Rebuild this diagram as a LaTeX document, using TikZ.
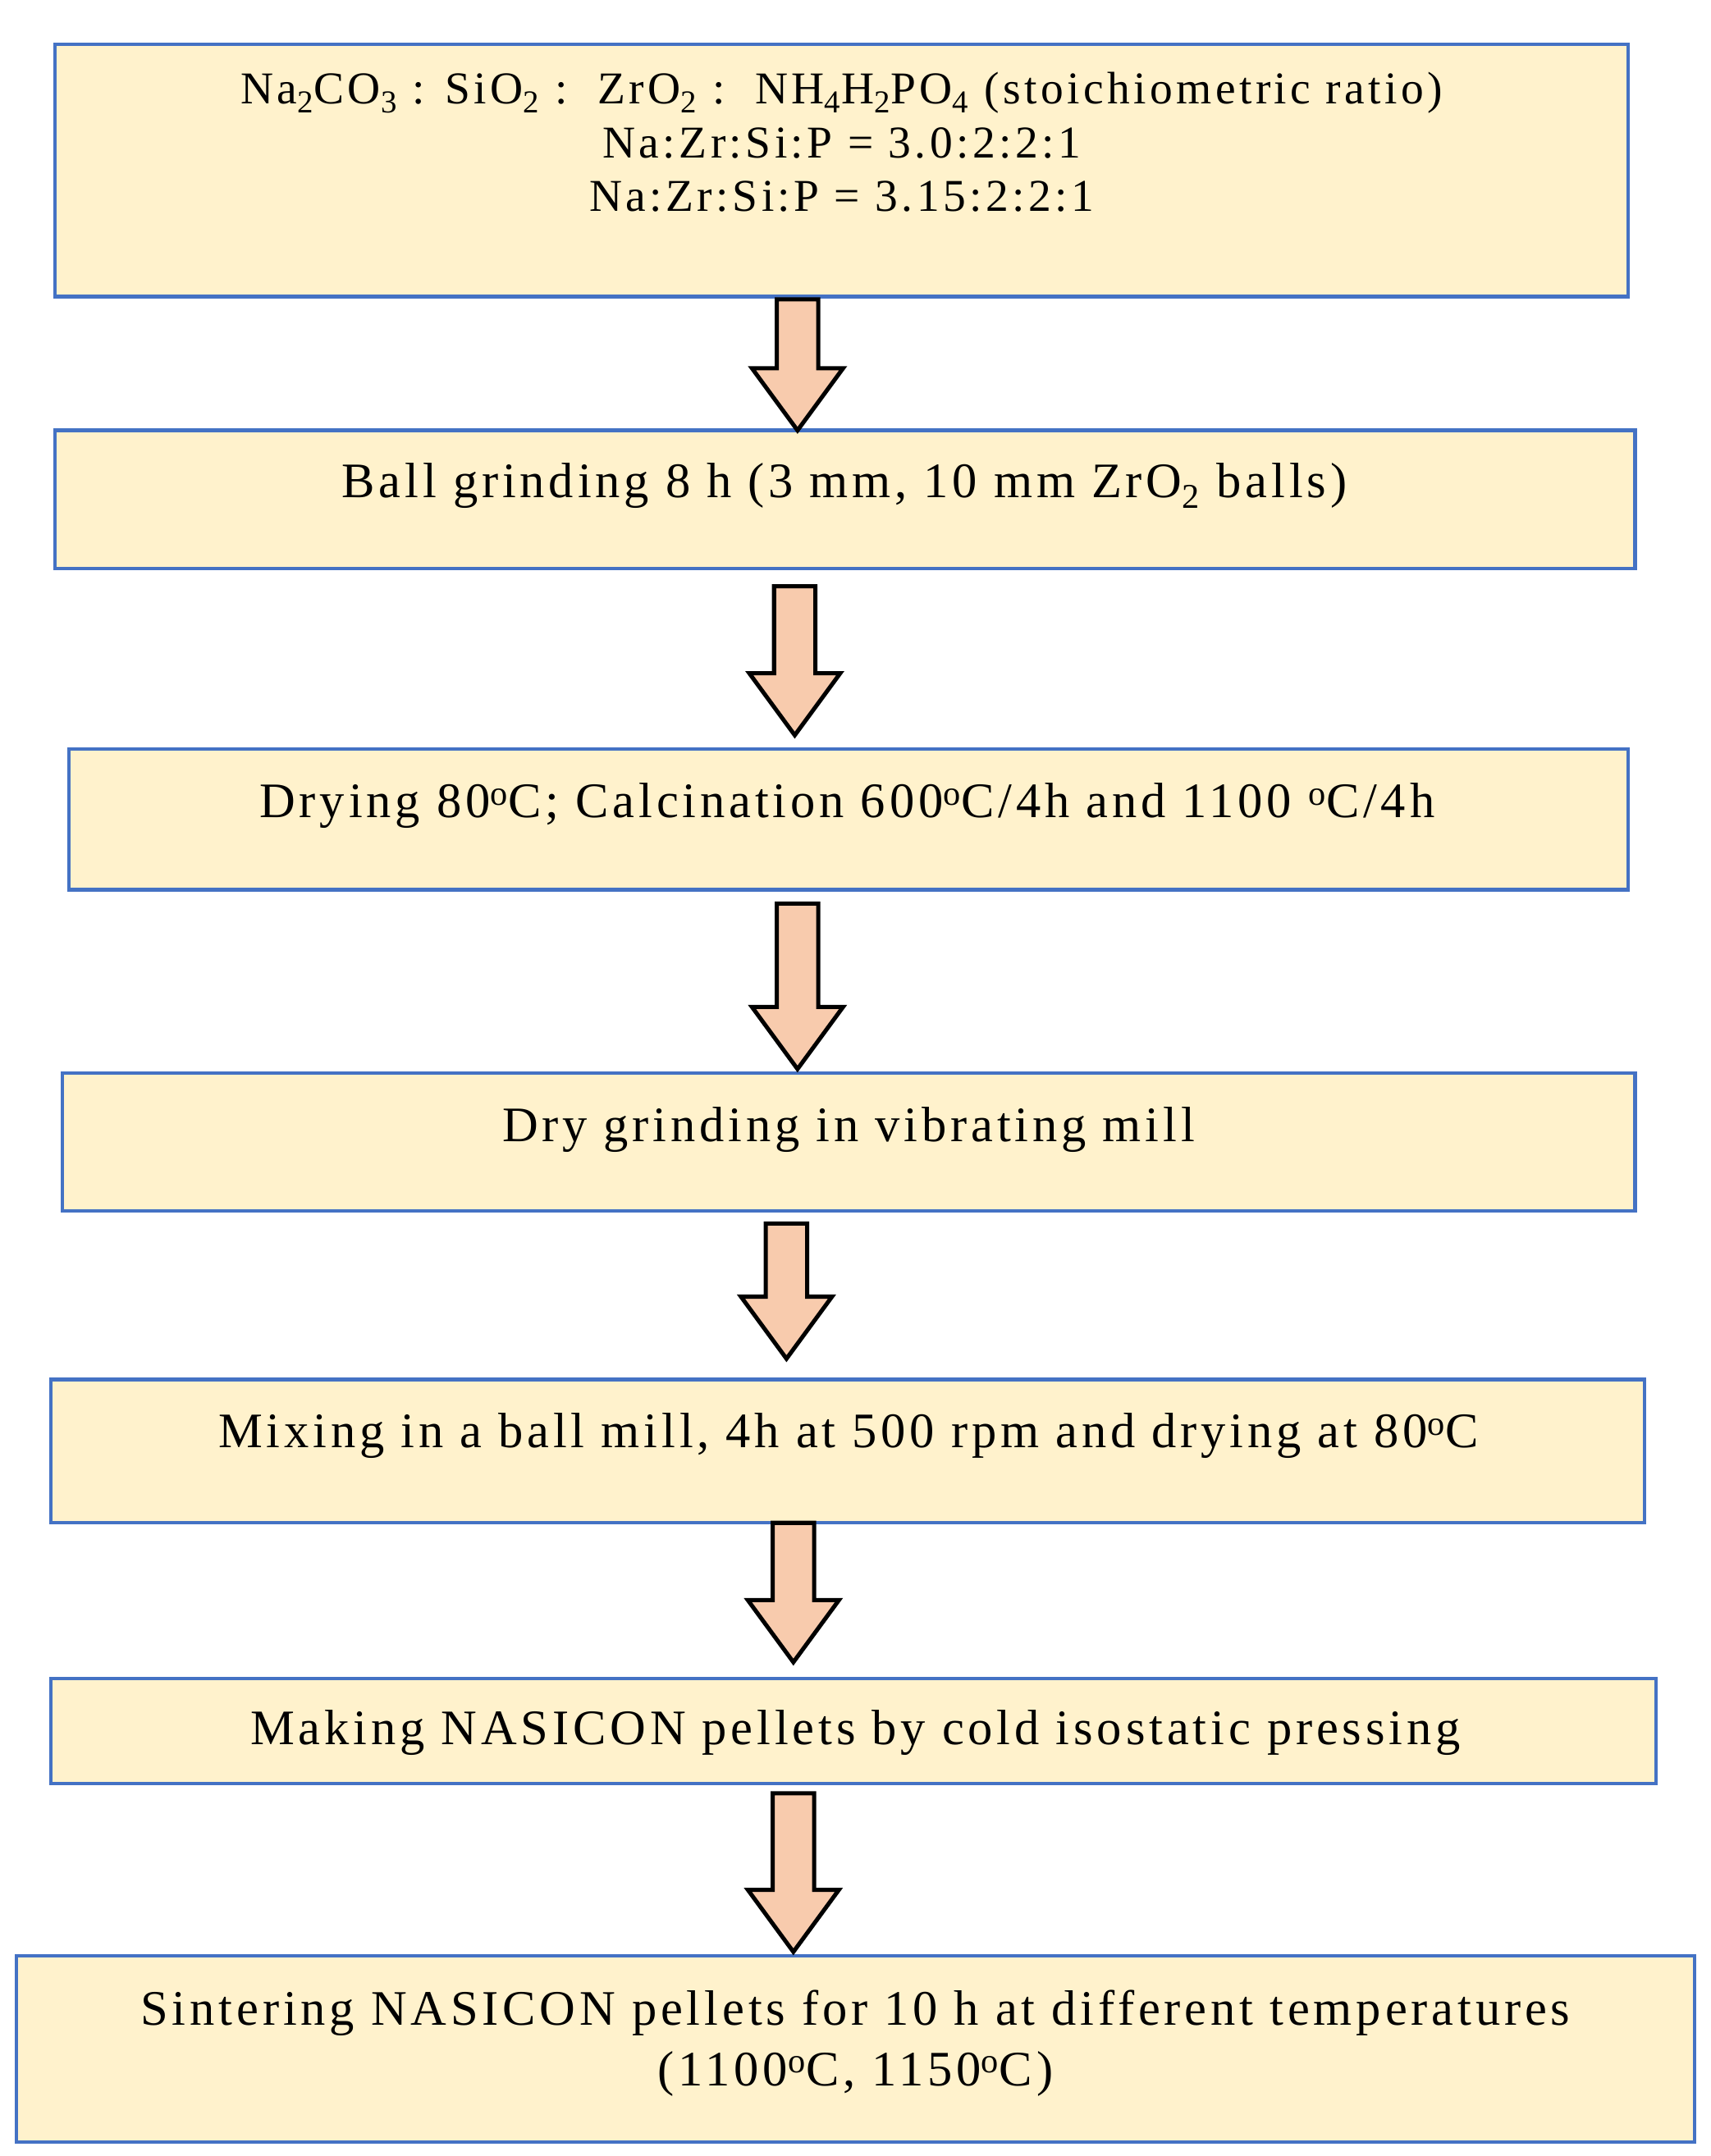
\documentclass[tikz,border=0pt]{standalone}
\usepackage{fontspec}
\setmainfont{Liberation Serif}[LetterSpace=8]
\definecolor{boxfill}{HTML}{FFF2CC}
\definecolor{boxline}{HTML}{4472C4}
\definecolor{arrfill}{HTML}{F8CBAD}
\newcommand\blockarrow[3]{% xc, ytop, ybot (downward positive)
  \draw[arr] (#1-15,-#2) -- (#1+15,-#2) -- (#1+15,-#3+45) -- (#1+33,-#3+45) -- (#1,-#3) -- (#1-33,-#3+45) -- (#1-15,-#3+45) -- cycle;}
\begin{document}
\begin{tikzpicture}[x=1pt,y=1pt,
  box/.style={draw=boxline,line width=2.5pt,fill=boxfill},
  txt/.style={font=\fontsize{36}{40}\selectfont,align=center},
  arr/.style={draw=black,line width=3pt,fill=arrfill,line join=miter}]
\useasboundingbox (0,0) rectangle (1240,-1563);
\draw[box] (40,-32) rectangle (1180,-215);
\node[txt,font=\fontsize{33}{39}\selectfont] (n1) at (610,-103) {Na\textsubscript{2}CO\textsubscript{3} : SiO\textsubscript{2} :\ \ ZrO\textsubscript{2} :\ \ NH\textsubscript{4}H\textsubscript{2}PO\textsubscript{4} (stoichiometric ratio)\\Na:Zr:Si:P = 3.0:2:2:1\\Na:Zr:Si:P = 3.15:2:2:1};
\draw[box] (40,-312) rectangle (1185,-412);
\node[txt] (n2) at (612,-352) {Ball grinding 8 h (3 mm, 10 mm ZrO\textsubscript{2} balls)};
\draw[box] (50,-543) rectangle (1180,-645);
\node[txt] (n3) at (614,-584) {Drying 80\textsuperscript{o}C; Calcination 600\textsuperscript{o}C/4h and 1100 \textsuperscript{o}C/4h};
\draw[box] (45,-778) rectangle (1185,-878);
\node[txt] (n4) at (615,-819) {Dry grinding in vibrating mill};
\draw[box] (37,-1000) rectangle (1192,-1104);
\node[txt] (n5) at (615,-1041) {Mixing in a ball mill, 4h at 500 rpm and drying at 80\textsuperscript{o}C};
\draw[box] (37,-1217) rectangle (1200,-1293);
\node[txt] (n6) at (620,-1256) {Making NASICON pellets by cold isostatic pressing};
\draw[box] (12,-1418) rectangle (1228,-1553);
\node[txt,font=\fontsize{36}{44}\selectfont] (n7) at (620,-1481) {Sintering NASICON pellets for 10 h at different temperatures\\(1100\textsuperscript{o}C, 1150\textsuperscript{o}C)};
\blockarrow{578}{217}{312}
\blockarrow{576}{425}{533}
\blockarrow{578}{655}{775}
\blockarrow{570}{887}{985}
\blockarrow{575}{1104}{1205}
\blockarrow{575}{1300}{1415}
\end{tikzpicture}
\end{document}
